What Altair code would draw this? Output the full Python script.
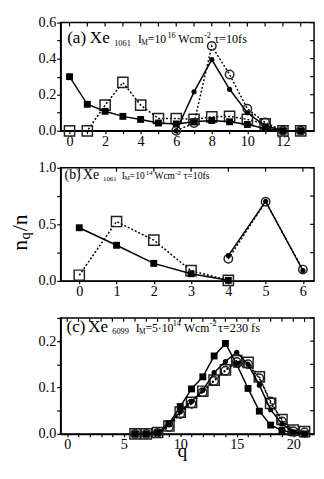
import altair as alt
import pandas as pd

FONT = "Liberation Serif, Times New Roman, serif"

# ---------------- data ----------------
# Panel (a)
qa_sq = list(range(0, 14))
a_fill_sq = [0.30, 0.147, 0.108, 0.08, 0.063, 0.043, 0.038, 0.05, 0.057, 0.05, 0.035, 0.013, 0.0, 0.0]
a_open_sq = [0.0, 0.0, 0.142, 0.268, 0.142, 0.068, 0.068, 0.063, 0.077, 0.08, 0.063, 0.038, 0.0, 0.0]
qa_ci = list(range(6, 14))
a_fill_ci = [0.0, 0.216, 0.395, 0.23, 0.10, 0.028, 0.0, 0.0]
a_open_ci = [0.0, 0.043, 0.47, 0.312, 0.122, 0.046, 0.0, 0.0]

# Panel (b)
qb_sq = [0, 1, 2, 3, 4]
b_fill_sq = [0.47, 0.315, 0.155, 0.063, 0.005]
b_open_sq = [0.05, 0.525, 0.36, 0.09, 0.005]
qb_ci = [4, 5, 6]
b_fill_ci = [0.224, 0.704, 0.092]
b_open_ci = [0.195, 0.70, 0.10]

# Panel (c)
qc = list(range(6, 22))
c_fill_sq = [0.0, 0.0, 0.003, 0.022, 0.059, 0.097, 0.123, 0.168, 0.195, 0.15, 0.098, 0.049, 0.019, 0.008, 0.002, 0.0]
c_fill_ci = [0.0, 0.0, 0.002, 0.02, 0.048, 0.07, 0.094, 0.132, 0.156, 0.176, 0.15, 0.105, 0.052, 0.022, 0.004, 0.0]
c_open_sq = [0.0, 0.0, 0.003, 0.017, 0.047, 0.068, 0.092, 0.116, 0.138, 0.158, 0.154, 0.123, 0.066, 0.031, 0.008, 0.005]
c_open_ci = [0.0, 0.0, 0.002, 0.015, 0.043, 0.065, 0.09, 0.114, 0.136, 0.155, 0.15, 0.12, 0.07, 0.027, 0.006, 0.003]

# axis tick values
a_xticks = list(range(0, 14))
a_yticks = [0.0, 0.1, 0.2, 0.3, 0.4, 0.5, 0.6]
b_xticks = list(range(0, 7))
b_yticks = [0.0, 0.25, 0.5, 0.75, 1.0]
c_xticks = list(range(0, 22))
c_yticks = [0.0, 0.05, 0.1, 0.15, 0.2, 0.25]

# panel label pieces: (text, x, y, fontSize)
a_label = [("(a)", 6.7, 21, 17.5), ("Xe", 30, 21, 17.5), ("1061", 55, 24.5, 8.5),
           ("I", 79.3, 21, 12), ("M", 82.8, 23, 7.5), ("=10", 89.5, 21, 12),
           ("16", 109.6, 15.5, 8.5), ("Wcm", 120.7, 21, 12), ("-2", 147, 15.5, 8.5),
           ("τ=10fs", 157.5, 21, 12.5)]
b_label = [("(b)", 4, 11.5, 14.2), ("Xe", 22.9, 11.5, 14.2), ("1061", 43.5, 14, 7),
           ("I", 62.8, 11.5, 9.7), ("M", 65.6, 13, 6.2), ("=10", 71, 11.5, 9.7),
           ("14", 87.3, 7, 7), ("Wcm", 96.3, 11.5, 9.7), ("-2", 117.6, 7, 7),
           ("τ=10fs", 126, 11.5, 10)]
c_label = [("(c)", 6, 14.3, 17.5), ("Xe", 28.3, 14.3, 17.5), ("6099", 53, 17, 8.5),
           ("I", 77, 14.3, 12), ("M", 80.5, 16.3, 7.5), ("=5·10", 87, 14.3, 12),
           ("14", 115, 8.7, 8.5), ("Wcm", 126.5, 14.3, 12), ("-2", 153, 8.7, 8.5),
           ("τ=230 fs", 161.5, 14.3, 12.5)]
# y-axis title pieces (rotated): (text, x, y, fontSize)
ytitle = [("n", -35, 85, 22), ("q", -31, 73.5, 15), ("/n", -35, 65, 22)]

STYLE = {
    "open_sq": dict(shape="square", filled=False, size=110, dash=True),
    "fill_sq": dict(shape="square", filled=True, size=50, dash=False),
    "open_ci": dict(shape="circle", filled=False, size=75, dash=True),
    "fill_ci": dict(shape="circle", filled=True, size=28, dash=False),
}
ORDER = ["open_sq", "fill_sq", "open_ci", "fill_ci"]

W = 260
LABEL_SIZE = 14.5


def text_layer(txt, x, y, size, **kw):
    opts = dict(text=txt, font=FONT, fontSize=size, color="black", align="left",
                baseline="alphabetic")
    opts.update(kw)
    return alt.Chart(alt.Data(values=[{}])).mark_text(**opts).encode(
        x=alt.value(x), y=alt.value(y))


def make_panel(series, H, xdom, ydom, xt, xlab, yt, ylab, label, ytitle_op, extra=()):
    xs = alt.Scale(domain=xdom, nice=False, zero=False)
    ys = alt.Scale(domain=ydom, nice=False, zero=False)
    xkw = dict(values=xt, title=None, grid=False, tickSize=3, labelPadding=1,
               domainWidth=1.5, domainColor="black", tickWidth=1.2, tickColor="black",
               labelFont=FONT, labelFontSize=LABEL_SIZE, labelColor="black", labelFlush=False,
               labelOverlap=False)
    if xlab:
        xkw["labelExpr"] = xlab
    xaxis = alt.Axis(**xkw)
    yaxis = alt.Axis(values=yt, labelExpr=ylab, format=".1f", title=None, grid=False,
                     tickSize=4, labelPadding=1, domainWidth=1.5, domainColor="black",
                     tickWidth=1.2, tickColor="black", labelFont=FONT, labelFontSize=LABEL_SIZE,
                     labelColor="black", labelFlush=False, labelOverlap=False)
    layers = []
    # inward ticks on top and right edges
    layers.append(alt.Chart(pd.DataFrame({"q": xt})).mark_rule(color="black", strokeWidth=1.2)
                  .encode(x=alt.X("q:Q", scale=xs, axis=xaxis), y=alt.value(0), y2=alt.value(4)))
    layers.append(alt.Chart(pd.DataFrame({"v": yt})).mark_rule(color="black", strokeWidth=1.2)
                  .encode(y=alt.Y("v:Q", scale=ys, axis=yaxis), x=alt.value(W - 4), x2=alt.value(W)))
    for key in ORDER:
        if key not in series:
            continue
        qs, vs = series[key]
        df = pd.DataFrame({"q": qs, "v": vs})
        st = STYLE[key]
        X = alt.X("q:Q", scale=xs, axis=xaxis)
        Y = alt.Y("v:Q", scale=ys, axis=yaxis)
        lkw = dict(color="black", strokeWidth=1.5)
        if st["dash"]:
            lkw["strokeDash"] = [2, 2]
        layers.append(alt.Chart(df).mark_line(**lkw).encode(x=X, y=Y))
        if st["filled"]:
            pkw = dict(filled=True, color="black", opacity=1)
        else:
            pkw = dict(filled=False, color="#222222", strokeWidth=1.5, opacity=1)
        layers.append(alt.Chart(df).mark_point(shape=st["shape"], size=st["size"], **pkw)
                      .encode(x=X, y=Y))
    for (t, x, y, s) in label:
        layers.append(text_layer(t, x, y, s))
    for (t, x, y, s) in ytitle:
        layers.append(text_layer(t, x, y, s, angle=270, opacity=ytitle_op))
    layers.extend(extra)
    return alt.layer(*layers).properties(width=W, height=H)


HA, HB, HC = 111, 116, 119

pa = make_panel({"open_sq": (qa_sq, a_open_sq), "fill_sq": (qa_sq, a_fill_sq),
                 "open_ci": (qa_ci, a_open_ci), "fill_ci": (qa_ci, a_fill_ci)},
                HA, [-0.5, 13.75], [0, 0.6], a_xticks, "datum.value % 2 == 0 ? datum.label : ''",
                a_yticks, "round(datum.value*10) % 2 == 0 ? datum.label : ''", a_label, 0)

pb = make_panel({"open_sq": (qb_sq, b_open_sq), "fill_sq": (qb_sq, b_fill_sq),
                 "open_ci": (qb_ci, b_open_ci), "fill_ci": (qb_ci, b_fill_ci)},
                HB, [-0.5, 6.3], [0, 1.0], b_xticks, None,
                b_yticks, "round(datum.value*4) % 2 == 0 ? datum.label : ''", b_label, 1)

pc_extra = [
    text_layer("q", 125, HC + 24, 20, align="center"),
    text_layer("0", -10, -7, LABEL_SIZE, baseline="top", opacity=0),
]
pc = make_panel({"open_sq": (qc, c_open_sq), "fill_sq": (qc, c_fill_sq),
                 "open_ci": (qc, c_open_ci), "fill_ci": (qc, c_fill_ci)},
                HC, [-0.58, 21.84], [0, 0.25], c_xticks, "datum.value % 5 == 0 ? datum.label : ''",
                c_yticks, "round(datum.value*20) % 2 == 0 ? datum.label : ''", c_label, 0,
                extra=pc_extra)

chart = (alt.vconcat(pa, pb, pc, spacing=10)
         .properties(padding={"left": 0, "right": 0, "top": 0, "bottom": 0}, background="white")
         .configure(font=FONT)
         .configure_axis(labelFont=FONT, labelFontSize=LABEL_SIZE, labelColor="black")
         .configure_text(font=FONT)
         .configure_view(stroke="black", strokeWidth=1.5))

chart.save("out.html", embed_options={"renderer": "svg", "actions": False})
